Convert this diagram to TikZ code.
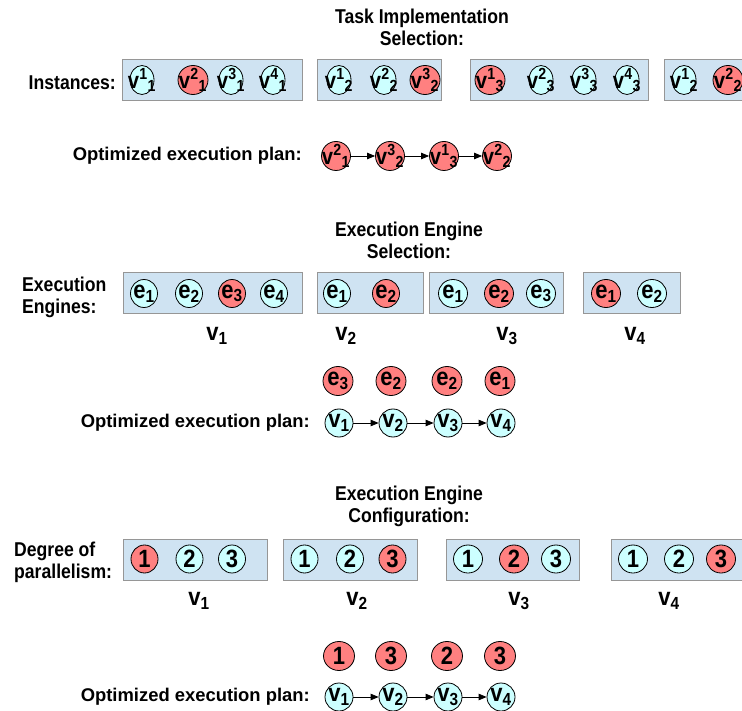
\documentclass[tikz,border=0pt]{standalone}
\usepackage{fontspec}
\setmainfont{Liberation Sans}
\newfontfamily\narrowf[FakeStretch=0.88]{Liberation Sans}
\usetikzlibrary{arrows.meta,shapes.geometric}
\definecolor{boxblue}{RGB}{207,227,242}
\definecolor{boxgray}{RGB}{150,150,150}
\definecolor{cyanc}{RGB}{204,255,255}
\definecolor{redc}{RGB}{255,128,128}
\newcommand\vsupsub[2]{{\fontsize{23}{23}\selectfont v\textsuperscript{#1}\textsubscript{#2}}}
\newcommand\esub[1]{e\textsubscript{#1}}
\tikzset{
  titlet/.style={font=\narrowf\bfseries\fontsize{20}{22}\selectfont, align=center, inner sep=0pt},
  lbl/.style={font=\narrowf\bfseries\fontsize{20}{22}\selectfont, inner sep=0pt},
  vlbl/.style={font=\narrowf\bfseries\fontsize{25}{25}\selectfont, inner sep=0pt},
  plantxt/.style={font=\bfseries\fontsize{18.4}{22}\selectfont, anchor=east, inner sep=0pt},
  grp/.style={draw=boxgray, fill=boxblue, line width=1pt, inner sep=0pt},
  circtxt/.style={font=\narrowf\bfseries\fontsize{25}{25}\selectfont, inner sep=0pt},
  bub/.style={ellipse, draw=black, line width=0.8pt, inner sep=0pt, minimum width=24pt, minimum height=29pt, label={[circtxt]center:#1}},
  cy/.style={bub=#1, fill=cyanc},
  rd/.style={bub=#1, fill=redc, minimum width=30pt},
  arr/.style={-{Triangle[length=8pt,width=6.5pt]}, line width=0.8pt}
}
\begin{document}
\begin{tikzpicture}[x=1pt,y=-1pt]
\useasboundingbox (0,0) rectangle (742,711);
\clip (0,0) rectangle (742,711);
% ---------- Section 1 ----------
\node[titlet] (t1) at (422,27) {Task Implementation\\Selection:};
\node[lbl, anchor=east] (inst) at (116,83) {Instances:};
\node[grp, minimum width=180pt, minimum height=41pt] (b11) at (212,80.5) {};
\node[grp, minimum width=124pt, minimum height=41pt] (b12) at (379,80.5) {};
\node[grp, minimum width=178pt, minimum height=41pt] (b13) at (559,80.5) {};
\node[grp, minimum width=130pt, minimum height=41pt] (b14) at (729,80.5) {};
\node[cy={\vsupsub{1}{1}}] (a11) at (142,80) {};
\node[rd={\vsupsub{2}{1}}] (a12) at (193,80) {};
\node[cy={\vsupsub{3}{1}}] (a13) at (231,80) {};
\node[cy={\vsupsub{4}{1}}] (a14) at (273,80) {};
\node[cy={\vsupsub{1}{2}}] (a21) at (339,80) {};
\node[cy={\vsupsub{2}{2}}] (a22) at (384,80) {};
\node[rd={\vsupsub{3}{2}}] (a23) at (425,80) {};
\node[rd={\vsupsub{1}{3}}] (a31) at (490,80) {};
\node[cy={\vsupsub{2}{3}}] (a32) at (541,80) {};
\node[cy={\vsupsub{3}{3}}] (a33) at (584,80) {};
\node[cy={\vsupsub{4}{3}}] (a34) at (627,80) {};
\node[cy={\vsupsub{1}{2}}] (a41) at (684,80) {};
\node[rd={\vsupsub{2}{2}}] (a42) at (728,80) {};
\node[plantxt] (p1) at (302,156) {Optimized execution plan:};
\node[rd={\vsupsub{2}{1}}, minimum width=29pt] (q1) at (336,156) {};
\node[rd={\vsupsub{3}{2}}, minimum width=29pt] (q2) at (390,156) {};
\node[rd={\vsupsub{1}{3}}, minimum width=29pt] (q3) at (444,156) {};
\node[rd={\vsupsub{2}{2}}, minimum width=29pt] (q4) at (497,156) {};
\draw[arr] (q1) -- (q2);
\draw[arr] (q2) -- (q3);
\draw[arr] (q3) -- (q4);
% ---------- Section 2 ----------
\node[titlet] (t2) at (409,240) {Execution Engine\\Selection:};
\node[lbl, anchor=west, align=left] (eng) at (22,297) {Execution\\Engines:};
\node[grp, minimum width=179pt, minimum height=41pt] (c1) at (212.5,293.5) {};
\node[grp, minimum width=106pt, minimum height=41pt] (c2) at (370,293.5) {};
\node[grp, minimum width=134pt, minimum height=41pt] (c3) at (496,293.5) {};
\node[grp, minimum width=97pt, minimum height=41pt] (c4) at (631.5,293.5) {};
\node[cy={\esub{1}}, minimum width=27pt, minimum height=28pt] (e11) at (144,293.5) {};
\node[cy={\esub{2}}, minimum width=27pt, minimum height=28pt] (e12) at (189,293.5) {};
\node[rd={\esub{3}}, minimum width=27pt, minimum height=28pt] (e13) at (232,293.5) {};
\node[cy={\esub{4}}, minimum width=27pt, minimum height=28pt] (e14) at (274,293.5) {};
\node[cy={\esub{1}}, minimum width=27pt, minimum height=28pt] (e21) at (337,293.5) {};
\node[rd={\esub{2}}, minimum width=27pt, minimum height=28pt] (e22) at (386,293.5) {};
\node[cy={\esub{1}}, minimum width=29pt, minimum height=28pt] (e31) at (453,293.5) {};
\node[rd={\esub{2}}, minimum width=29pt, minimum height=28pt] (e32) at (499,293.5) {};
\node[cy={\esub{3}}, minimum width=29pt, minimum height=28pt] (e33) at (541,293.5) {};
\node[rd={\esub{1}}, minimum width=29pt, minimum height=28pt] (e41) at (606,293.5) {};
\node[cy={\esub{2}}, minimum width=29pt, minimum height=28pt] (e42) at (652,293.5) {};
\node[vlbl] (l21) at (217,336) {v\textsubscript{1}};
\node[vlbl] (l22) at (346,336) {v\textsubscript{2}};
\node[vlbl] (l23) at (507,336) {v\textsubscript{3}};
\node[vlbl] (l24) at (635,336) {v\textsubscript{4}};
\node[rd={\esub{3}}, minimum width=30pt, minimum height=29pt] (r21) at (338,381) {};
\node[rd={\esub{2}}, minimum width=30pt, minimum height=29pt] (r22) at (391,381) {};
\node[rd={\esub{2}}, minimum width=30pt, minimum height=29pt] (r23) at (447,381) {};
\node[rd={\esub{1}}, minimum width=30pt, minimum height=29pt] (r24) at (500,381) {};
\node[plantxt] (p2) at (310,423) {Optimized execution plan:};
\node[cy={v\textsubscript{1}}, minimum width=28pt, minimum height=28pt] (s1) at (339,423) {};
\node[cy={v\textsubscript{2}}, minimum width=28pt, minimum height=28pt] (s2) at (393,423) {};
\node[cy={v\textsubscript{3}}, minimum width=28pt, minimum height=28pt] (s3) at (448,423) {};
\node[cy={v\textsubscript{4}}, minimum width=28pt, minimum height=28pt] (s4) at (501,423) {};
\draw[arr] (s1) -- (s2);
\draw[arr] (s2) -- (s3);
\draw[arr] (s3) -- (s4);
% ---------- Section 3 ----------
\node[titlet] (t3) at (409,506) {Execution Engine\\Configuration:};
\node[lbl, anchor=west, align=left] (deg) at (14,562) {Degree of\\parallelism:};
\node[grp, minimum width=144pt, minimum height=41pt] (d1) at (195,559.5) {};
\node[grp, minimum width=134pt, minimum height=41pt] (d2) at (350,559.5) {};
\node[grp, minimum width=133pt, minimum height=41pt] (d3) at (512.5,559.5) {};
\node[grp, minimum width=160pt, minimum height=41pt] (d4) at (691,559.5) {};
\node[rd={1}, minimum width=27pt, minimum height=28pt] (n11) at (144.5,559) {};
\node[cy={2}, minimum width=27pt, minimum height=28pt] (n12) at (189.5,559) {};
\node[cy={3}, minimum width=27pt, minimum height=28pt] (n13) at (232,559) {};
\node[cy={1}, minimum width=27pt, minimum height=28pt] (n21) at (304.5,559) {};
\node[cy={2}, minimum width=27pt, minimum height=28pt] (n22) at (350,559) {};
\node[rd={3}, minimum width=27pt, minimum height=28pt] (n23) at (392.5,559) {};
\node[cy={1}, minimum width=29pt, minimum height=28pt] (n31) at (468,559) {};
\node[rd={2}, minimum width=29pt, minimum height=28pt] (n32) at (514,559) {};
\node[cy={3}, minimum width=29pt, minimum height=28pt] (n33) at (556,559) {};
\node[cy={1}, minimum width=29pt, minimum height=28pt] (n41) at (633,559) {};
\node[cy={2}, minimum width=29pt, minimum height=28pt] (n42) at (679,559) {};
\node[rd={3}, minimum width=29pt, minimum height=28pt] (n43) at (721,559) {};
\node[vlbl] (l31) at (199,601) {v\textsubscript{1}};
\node[vlbl] (l32) at (357,601) {v\textsubscript{2}};
\node[vlbl] (l33) at (519,601) {v\textsubscript{3}};
\node[vlbl] (l34) at (669,601) {v\textsubscript{4}};
\node[rd={1}, minimum width=31pt, minimum height=29pt] (r31) at (339,656) {};
\node[rd={3}, minimum width=31pt, minimum height=29pt] (r32) at (391,656) {};
\node[rd={2}, minimum width=31pt, minimum height=29pt] (r33) at (447,656) {};
\node[rd={3}, minimum width=31pt, minimum height=29pt] (r34) at (500,656) {};
\node[plantxt] (p3) at (310,697) {Optimized execution plan:};
\node[cy={v\textsubscript{1}}, minimum width=28pt, minimum height=28pt] (u1) at (339,697) {};
\node[cy={v\textsubscript{2}}, minimum width=28pt, minimum height=28pt] (u2) at (393,697) {};
\node[cy={v\textsubscript{3}}, minimum width=28pt, minimum height=28pt] (u3) at (448,697) {};
\node[cy={v\textsubscript{4}}, minimum width=28pt, minimum height=28pt] (u4) at (501,697) {};
\draw[arr] (u1) -- (u2);
\draw[arr] (u2) -- (u3);
\draw[arr] (u3) -- (u4);
\end{tikzpicture}
\end{document}
